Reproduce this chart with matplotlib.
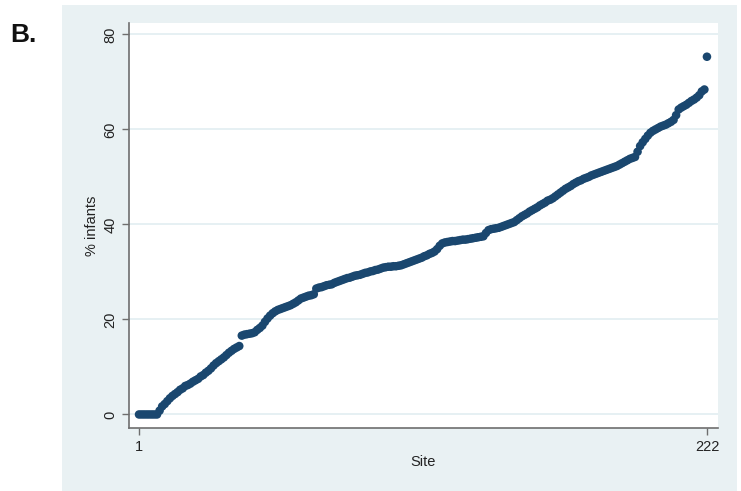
import numpy as np
import matplotlib
matplotlib.use("Agg")
import matplotlib.pyplot as plt

plt.rcParams['font.family'] = ['Liberation Sans', 'DejaVu Sans']

# % infants per site, sorted
pct_infants = [
    0, 0, 0, 0, 0, 0, 0, 0, 0.8, 1.7,
    2.2, 2.8, 3.4, 3.9, 4.3, 4.7, 5.2, 5.5, 6.0, 6.2,
    6.5, 6.9, 7.2, 7.5, 8.0, 8.3, 8.8, 9.2, 9.7, 10.3,
    10.8, 11.2, 11.6, 12.0, 12.5, 13.0, 13.4, 13.8, 14.1, 14.4,
    16.6, 16.8, 16.9, 17.0, 17.1, 17.3, 17.8, 18.2, 18.7, 19.5,
    20.2, 20.8, 21.3, 21.7, 22.0, 22.2, 22.4, 22.6, 22.8, 23.0,
    23.3, 23.6, 24.0, 24.4, 24.6, 24.8, 25.0, 25.1, 25.3, 26.5,
    26.7, 26.8, 27.0, 27.2, 27.3, 27.4, 27.7, 27.9, 28.1, 28.3,
    28.5, 28.7, 28.8, 29.0, 29.2, 29.3, 29.4, 29.6, 29.8, 29.9,
    30.1, 30.2, 30.4, 30.5, 30.7, 30.9, 31.0, 31.1, 31.1, 31.2,
    31.2, 31.3, 31.4, 31.6, 31.8, 32.0, 32.2, 32.4, 32.6, 32.8,
    33.0, 33.3, 33.5, 33.8, 34.0, 34.3, 34.8, 35.5, 36.0, 36.2,
    36.3, 36.4, 36.5, 36.5, 36.6, 36.7, 36.8, 36.8, 36.9, 37.0,
    37.1, 37.2, 37.3, 37.4, 37.5, 38.2, 38.8, 39.0, 39.1, 39.2,
    39.3, 39.5, 39.7, 39.9, 40.1, 40.3, 40.5, 40.9, 41.3, 41.7,
    42.0, 42.3, 42.7, 43.0, 43.3, 43.6, 44.0, 44.3, 44.6, 45.0,
    45.2, 45.5, 45.9, 46.3, 46.7, 47.1, 47.5, 47.8, 48.1, 48.5,
    48.8, 49.1, 49.3, 49.6, 49.8, 50.0, 50.3, 50.5, 50.7, 50.9,
    51.1, 51.3, 51.5, 51.7, 51.9, 52.1, 52.3, 52.6, 52.9, 53.2,
    53.5, 53.8, 54.0, 54.2, 55.3, 56.5, 57.3, 58.0, 58.7, 59.3,
    59.7, 60.0, 60.3, 60.6, 60.8, 61.0, 61.3, 61.6, 62.0, 63.0,
    64.2, 64.6, 64.9, 65.2, 65.6, 66.0, 66.3, 66.7, 67.2, 68.0,
    68.4, 75.3,
]
sites = np.arange(1, len(pct_infants) + 1)

y_ticks = [0, 20, 40, 60, 80]
x_ticks = [1, 222]

panel_col = '#e9f1f3'
dot_col = '#1a476f'

fig = plt.figure(figsize=(7.41, 4.91), dpi=100)
fig.patch.set_facecolor('white')

# stata-style light panel behind the plot
bg = fig.add_axes([62 / 741, 0, (737 - 62) / 741, 1 - 5 / 491], zorder=0)
bg.set_facecolor(panel_col)
bg.set_xticks([])
bg.set_yticks([])
for s in bg.spines.values():
    s.set_visible(False)

ax = fig.add_axes([129 / 741, 1 - 428 / 491, (718 - 129) / 741, (428 - 23) / 491], zorder=1)
ax.set_facecolor('white')
ax.scatter(sites, pct_infants, s=38, color=dot_col, edgecolors='none', zorder=3)

ax.set_xlim(-2.9, 226.3)
ax.set_ylim(-2.85, 82.4)
ax.set_yticks(y_ticks)
ax.set_xticks(x_ticks)
ax.grid(axis='y', color='#e2eef1', linewidth=1.2)
ax.set_axisbelow(True)

for s in ['top', 'right']:
    ax.spines[s].set_visible(False)
for s in ['left', 'bottom']:
    ax.spines[s].set_color('#6e6e6e')
    ax.spines[s].set_linewidth(1.2)

ax.tick_params(axis='both', colors='#6e6e6e', length=5, width=1,
               labelcolor='#222222', labelsize=10.5)
plt.setp(ax.get_yticklabels(), rotation=90, va='center')

ax.set_ylabel('% infants', fontsize=10.5, color='#222222', labelpad=3)
ax.set_xlabel('Site', fontsize=10.5, color='#222222', labelpad=1)

fig.text(10 / 741, 1 - 35 / 491, 'B.', fontsize=19, fontweight='bold',
         va='center', ha='left', color='#111111')

fig.savefig('out.png', dpi=100)
